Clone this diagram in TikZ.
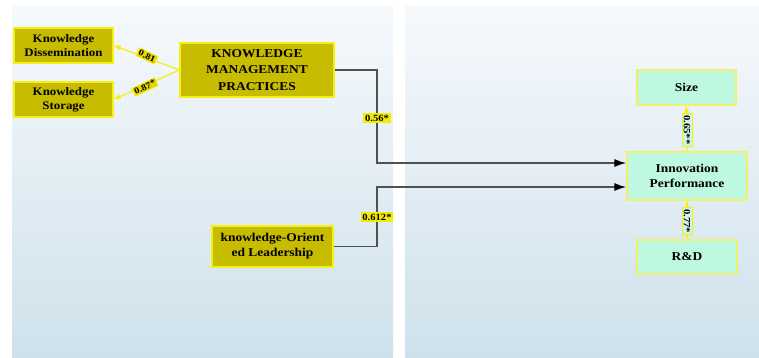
\documentclass[tikz,border=0pt]{standalone}
\usepackage{fontspec}
\setmainfont{Liberation Serif}[FakeStretch=1.12]
\usetikzlibrary{arrows.meta}
\definecolor{bgtop}{RGB}{246,249,252}
\definecolor{bgbot}{RGB}{206,225,235}
\definecolor{kmfill}{RGB}{200,188,0}
\definecolor{kmline}{RGB}{245,240,20}
\definecolor{aqfill}{RGB}{190,248,224}
\definecolor{aqline}{RGB}{240,240,110}
\definecolor{lblfill}{RGB}{226,214,0}
\definecolor{lblbright}{RGB}{242,236,0}
\definecolor{vlblfill}{RGB}{208,244,226}
\definecolor{linkgray}{RGB}{80,80,80}
\begin{document}
\begin{tikzpicture}[x=1pt,y=-1pt,
  kmbox/.style={draw=kmline, line width=1.3pt, fill=kmfill, align=center, inner sep=0pt, font=\bfseries},
  aqbox/.style={draw=aqline, line width=1.3pt, fill=aqfill, align=center, inner sep=0pt, font=\bfseries\fontsize{12}{15}\selectfont},
  link/.style={draw=linkgray, line width=1.6pt, -{Latex[length=12pt,width=8pt,color=black]}},
  ylink/.style={draw=kmline, line width=1.2pt, -{Latex[length=7pt,width=6pt]}},
  coef/.style={draw=kmline, line width=0.8pt, fill=lblfill, inner sep=1.2pt, font=\bfseries\fontsize{9}{10}\selectfont},
  coefb/.style={fill=lblbright, inner sep=1.8pt, font=\bfseries\fontsize{9.5}{10}\selectfont},
  vcoef/.style={draw=kmline, line width=0.8pt, fill=vlblfill, inner sep=1.8pt, rotate=-90, font=\bfseries\fontsize{9.5}{10}\selectfont}]
\useasboundingbox (0,0) rectangle (759,358);
\fill[white] (0,0) rectangle (759,358);
\shade[top color=bgtop, bottom color=bgbot] (12,7) rectangle (393,358);
\shade[top color=bgtop, bottom color=bgbot] (405,7) rectangle (759,358);

% nodes
\node[kmbox, minimum width=99pt, minimum height=35pt, font=\bfseries\fontsize{11.5}{14}\selectfont] (diss) at (63.5,45.5) {Knowledge\\Dissemination};
\node[kmbox, minimum width=99pt, minimum height=35pt, font=\bfseries\fontsize{11.5}{14}\selectfont] (stor) at (63.5,99.5) {Knowledge\\Storage};
\node[kmbox, minimum width=154pt, minimum height=54pt, font=\bfseries\fontsize{12}{16.5}\selectfont] (kmp) at (257,70) {KNOWLEDGE\\MANAGEMENT\\PRACTICES};
\node[kmbox, minimum width=121pt, minimum height=41pt, font=\bfseries\fontsize{12}{15}\selectfont] (kol) at (272.5,246.5) {knowledge-Orient\\ed Leadership};
\node[aqbox, minimum width=120pt, minimum height=48pt] (inno) at (687,176) {Innovation\\Performance};
\node[aqbox, minimum width=99pt, minimum height=35pt] (size) at (686.5,87.5) {Size};
\node[aqbox, minimum width=100pt, minimum height=34pt] (rd) at (687,257) {R\&D};

% yellow reflective arrows
\draw[ylink] (kmp.west) -- (diss.east);
\draw[ylink] (kmp.west) -- (stor.east);
\draw[ylink] (inno.north) -- (size.south);
\draw[ylink] (inno.south) -- (rd.north);

% structural paths
\coordinate (b1) at (377,163);
\coordinate (b2) at (377,187);
\draw[link] (kmp.east) -| (b1) -- (b1 -| inno.west);
\draw[link] (kol.east) -| (b2) -- (b2 -| inno.west);

% coefficients
\node[coef, rotate=-25] (c1) at (147,56) {0.81};
\node[coef, rotate=25] (c2) at (145,87) {0.87*};
\node[coefb] (c3) at (377,118) {0.56*};
\node[coefb] (c4) at (377,217) {0.612*};
\node[vcoef] (c5) at (687,130) {0.65**};
\node[vcoef] (c6) at (687,221) {0.77*};
\end{tikzpicture}
\end{document}
